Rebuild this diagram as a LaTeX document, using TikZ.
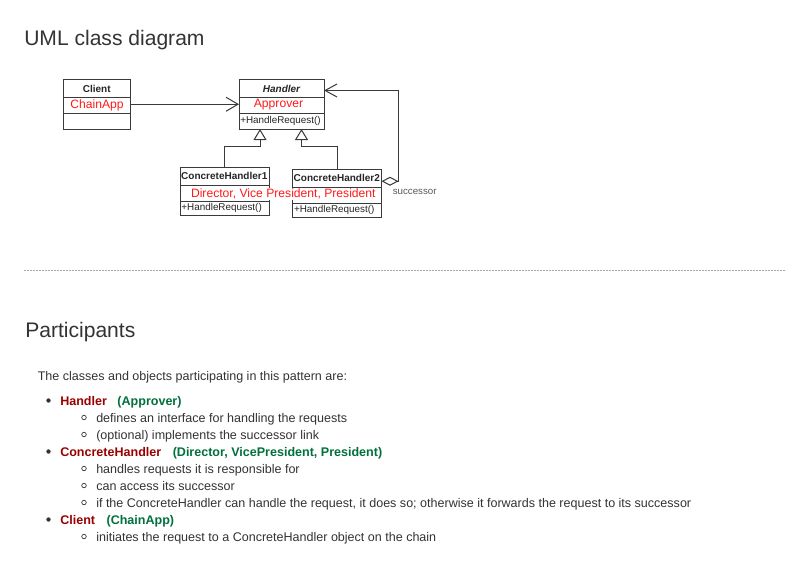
\documentclass[tikz,border=0pt]{standalone}
\usepackage{fontspec}
\setmainfont{Liberation Sans}
\usetikzlibrary{arrows.meta}
\newlength\pxu
\setlength\pxu{0.75pt}
\definecolor{txt}{HTML}{333333}
\definecolor{umlline}{HTML}{3A3A3A}
\definecolor{umlred}{HTML}{FF1A1A}
\definecolor{hdred}{HTML}{990000}
\definecolor{hdgreen}{HTML}{00703C}
\definecolor{rulegray}{HTML}{A8A8A8}
\begin{document}
\begin{tikzpicture}[x=1\pxu, y=-1\pxu,
  box/.style={draw=umlline, line width=1\pxu, fill=white, inner sep=0pt, outer sep=0pt},
  divider/.style={draw=umlline, line width=1\pxu},
  cls/.style={font=\fontsize{7.5}{9}\selectfont\bfseries, text=black!85, inner sep=0pt},
  meth/.style={font=\fontsize{7.4}{9}\selectfont, text=black!85, inner sep=0pt, anchor=west},
  attr/.style={font=\fontsize{9.1}{11}\selectfont, text=umlred, inner sep=0pt},
  conn/.style={draw=umlline, line width=1\pxu},
  assoc/.style={conn, -{Straight Barb[length=9pt, width=10.5pt]}},
  inherit/.style={conn, -{Triangle[open, length=8.25pt, width=9.75pt]}},
  aggr/.style={conn, {Diamond[open, length=12.75pt, width=6.75pt]}-{Straight Barb[length=9pt, width=9.75pt]}},
  heading/.style={font=\fontsize{15.8}{18}\selectfont, text=txt, anchor=base west, inner sep=0pt},
  body/.style={font=\fontsize{9.4}{11}\selectfont, text=txt, anchor=base west, inner sep=0pt},
  redhead/.style={font=\fontsize{9.4}{11}\selectfont\bfseries, text=hdred, anchor=base west, inner sep=0pt},
  greenhead/.style={font=\fontsize{9.4}{11}\selectfont\bfseries, text=hdgreen, anchor=base west, inner sep=0pt},
  bul/.style={circle, fill=txt, inner sep=0pt, minimum size=3.3pt},
  subbul/.style={circle, draw=txt, line width=0.5pt, inner sep=0pt, minimum size=3.4pt}
]
\useasboundingbox[fill=white] (0,0) rectangle (798,575);

% ---------- Headings ----------
\node[heading] (title1) at (24,45) {UML class diagram};
\node[heading] (title2) at (25,337) {Participants};

% ---------- UML: boxes ----------
\node[box, minimum width=67.5\pxu, minimum height=49.5\pxu] (client) at (96.75,104.25) {};
\draw[divider] ([yshift=-17.5\pxu]client.north west) -- ([yshift=-17.5\pxu]client.north east);
\draw[divider] ([yshift=-33.5\pxu]client.north west) -- ([yshift=-33.5\pxu]client.north east);
\node[cls] (clientT) at (96.75,88.5) {Client};
\node[attr] (clientA) at (97,105) {ChainApp};

\node[box, minimum width=85\pxu, minimum height=49.5\pxu] (handler) at (281.5,104.25) {};
\draw[divider] ([yshift=-17.5\pxu]handler.north west) -- ([yshift=-17.5\pxu]handler.north east);
\draw[divider] ([yshift=-33.5\pxu]handler.north west) -- ([yshift=-33.5\pxu]handler.north east);
\node[cls, font=\fontsize{7.5}{9}\selectfont\bfseries\itshape] (handlerT) at (281.5,88.5) {Handler};
\node[attr] (handlerA) at (278.5,104.5) {Approver};
\node[meth] (handlerM) at (240,121) {+HandleRequest()};

\node[box, minimum width=89\pxu, minimum height=48.5\pxu] (ch1) at (224.5,191.25) {};
\draw[divider] ([yshift=-18\pxu]ch1.north west) -- ([yshift=-18\pxu]ch1.north east);
\draw[divider] ([yshift=-34.5\pxu]ch1.north west) -- ([yshift=-34.5\pxu]ch1.north east);
\node[cls] (ch1T) at (224.3,175.5) {ConcreteHandler1};
\node[meth] (ch1M) at (181.2,208) {+HandleRequest()};

\node[box, minimum width=89\pxu, minimum height=48.5\pxu] (ch2) at (337,193.5) {};
\draw[divider] ([yshift=-18\pxu]ch2.north west) -- ([yshift=-18\pxu]ch2.north east);
\draw[divider] ([yshift=-34.5\pxu]ch2.north west) -- ([yshift=-34.5\pxu]ch2.north east);
\node[cls] (ch2T) at (336.8,177.8) {ConcreteHandler2};
\node[meth] (ch2M) at (293.8,210.2) {+HandleRequest()};

% red attribute text spanning both concrete handlers
\node[attr, fill=white, inner xsep=0.5pt, inner ysep=0.3pt] (chA) at (283.3,194) {Director, Vice President, President};

% ---------- UML: connectors ----------
\draw[assoc] (client.east) -- (handler.west);
\draw[inherit] (ch1.north) -- ++(0,-21) -| ([xshift=21\pxu]handler.south west);
\draw[inherit] (ch2.north) -- ++(0,-23) -| ([xshift=-22.5\pxu]handler.south east);
\draw[aggr] ([yshift=-12\pxu]ch2.north east) -- ++(17,0) |- ([yshift=-11\pxu]handler.north east);
\node[font=\fontsize{7.3}{9}\selectfont, text=black!65, anchor=west, inner sep=0pt] (succ) at (392.5,191.7) {successor};

% ---------- dotted rule ----------
\coordinate (ruleL) at (24,270);
\coordinate (ruleR) at (786,270);
\draw[rulegray, line width=1\pxu, dash pattern=on 1.5\pxu off 1.5\pxu] (ruleL) -- (ruleR);

% ---------- Participants list ----------
\node[body] (intro) at (37.5,380) {The classes and objects participating in this pattern are:};

\node[bul] (b1) at (48.5,400.5) {};
\node[redhead] (p1) at (60,405) {Handler};
\node[greenhead] (p1g) at ([xshift=10\pxu]p1.base east) {(Approver)};
\node[subbul] (s11) at (84,417.5) {};
\node[body] (t11) at (96,422) {defines an interface for handling the requests};
\node[subbul] (s12) at (84,434.5) {};
\node[body] (t12) at (96,439) {(optional) implements the successor link};

\node[bul] (b2) at (48.5,451.5) {};
\node[redhead] (p2) at (60,456) {ConcreteHandler};
\node[greenhead] (p2g) at ([xshift=11\pxu]p2.base east) {(Director, VicePresident, President)};
\node[subbul] (s21) at (84,468.5) {};
\node[body] (t21) at (96,473) {handles requests it is responsible for};
\node[subbul] (s22) at (84,485.5) {};
\node[body] (t22) at (96,490) {can access its successor};
\node[subbul] (s23) at (84,502.5) {};
\node[body] (t23) at (96,507) {if the ConcreteHandler can handle the request, it does so; otherwise it forwards the request to its successor};

\node[bul] (b3) at (48.5,519.5) {};
\node[redhead] (p3) at (60,524) {Client};
\node[greenhead] (p3g) at ([xshift=11\pxu]p3.base east) {(ChainApp)};
\node[subbul] (s31) at (84,536.5) {};
\node[body] (t31) at (96,541) {initiates the request to a ConcreteHandler object on the chain};
\end{tikzpicture}
\end{document}
